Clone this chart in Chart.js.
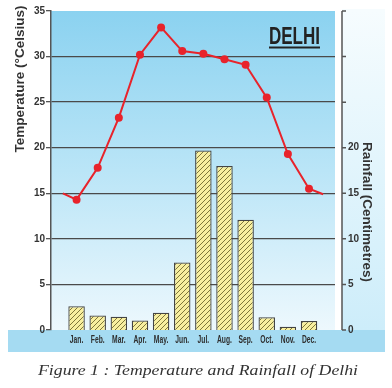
<!DOCTYPE html>
<html>
<head>
<meta charset="utf-8">
<script src="https://cdn.jsdelivr.net/npm/chart.js@4.4.1/dist/chart.umd.min.js"></script>
<style>
  html, body { margin: 0; padding: 0; background: #fff; }
</style>
</head>
<body>
<canvas id="chart" width="392" height="388"></canvas>
<script>
const months = ['Jan.', 'Feb.', 'Mar.', 'Apr.', 'May.', 'Jun.', 'Jul.', 'Aug.', 'Sep.', 'Oct.', 'Nov.', 'Dec.'];
const temperature = [14.3, 17.8, 23.3, 30.2, 33.2, 30.6, 30.3, 29.7, 29.1, 25.5, 19.3, 15.5];
const rainfall = [2.6, 1.6, 1.45, 1.05, 1.9, 7.4, 19.7, 18.0, 12.1, 1.4, 0.35, 1.0];
const tempEdges = [15, 14.9]; // the line runs on to both plot edges
const rainLabelMax = 20; // right axis only labelled up to 20

const X_MIN = -0.65, X_MAX = 11.67;

// yellow hatch for the bars
function hatch() {
  const c = document.createElement('canvas');
  c.width = 5; c.height = 5;
  const g = c.getContext('2d');
  g.fillStyle = '#f8ef9f';
  g.fillRect(0, 0, 5, 5);
  g.strokeStyle = '#7f773a';
  g.lineWidth = 1;
  g.beginPath();
  g.moveTo(0, 5); g.lineTo(5, 0);
  g.moveTo(-1, 1); g.lineTo(1, -1);
  g.moveTo(4, 6); g.lineTo(6, 4);
  g.stroke();
  return g.createPattern(c, 'repeat');
}

// draws text centred at cx, squeezed to width (or scaled by sx if width is null)
function fitText(ctx, text, cx, cy, width, font, rot, sx) {
  ctx.save();
  ctx.font = font;
  ctx.translate(cx, cy);
  ctx.rotate(rot);
  const w = ctx.measureText(text).width;
  ctx.scale(width ? width / w : sx, 1);
  ctx.textAlign = 'center';
  ctx.fillText(text, 0, 0);
  ctx.restore();
}

const decor = {
  id: 'decor',
  beforeDraw(chart) {
    const { ctx, chartArea: a } = chart;
    ctx.save();
    ctx.fillStyle = '#fff';
    ctx.fillRect(0, 0, chart.width, chart.height);
    // right strip
    let g = ctx.createLinearGradient(0, a.top, 0, a.bottom);
    g.addColorStop(0, '#f6fcfe');
    g.addColorStop(1, '#cdedfa');
    ctx.fillStyle = g;
    ctx.fillRect(a.right + 7, a.top - 2, 43, a.bottom - a.top + 2);
    // plot area
    g = ctx.createLinearGradient(0, a.top, 0, a.bottom);
    g.addColorStop(0, '#8bd2f0');
    g.addColorStop(0.5, '#bae5f7');
    g.addColorStop(1, '#edf8fd');
    ctx.fillStyle = g;
    ctx.fillRect(a.left, a.top, a.right - a.left, a.bottom - a.top);
    // band under the months
    ctx.fillStyle = '#a5dbf2';
    ctx.fillRect(8, a.bottom, 377, 22);
    ctx.restore();
  },
  afterDraw(chart) {
    const { ctx, chartArea: a } = chart;
    const x = chart.scales.x, y2 = chart.scales.y2;
    ctx.save();
    // right axis line and ticks
    const ax = a.right + 7;
    ctx.strokeStyle = '#555';
    ctx.lineWidth = 1.5;
    ctx.beginPath();
    ctx.moveTo(ax, a.top); ctx.lineTo(ax, a.bottom);
    y2.ticks.forEach(t => {
      const py = y2.getPixelForValue(t.value);
      ctx.moveTo(ax, py); ctx.lineTo(ax + 4, py);
    });
    ctx.stroke();

    // month labels, narrow like the print
    ctx.fillStyle = '#2e2e2e';
    months.forEach((m, i) => {
      fitText(ctx, m, x.getPixelForValue(i), a.bottom + 12.5, null, 'bold 10.5px "Liberation Sans", Arial', 0, 0.64);
    });

    ctx.fillStyle = '#333';
    fitText(ctx, 'Temperature (°Celsius)', 24, 79, 147, 'bold 13px "Liberation Sans", Arial', -Math.PI / 2);
    fitText(ctx, 'Rainfall (Centimetres)', 362.5, 212, 140, 'bold 13px "Liberation Sans", Arial', Math.PI / 2);

    ctx.fillStyle = '#222';
    fitText(ctx, 'DELHI', 294.5, 44.3, 51, 'bold 23px "Liberation Sans Narrow", "Liberation Sans", Arial', 0);
    ctx.fillRect(269, 46.5, 51, 2);

    ctx.fillStyle = '#333';
    fitText(ctx, 'Figure 1 : Temperature and Rainfall of Delhi', 198, 375, 320, 'italic 15px "Liberation Serif", "DejaVu Serif", serif', 0);
    ctx.restore();
  }
};

const tickFont = { family: '"Liberation Sans", Arial', size: 10, weight: 'bold' };

const tempPoints = [{ x: X_MIN, y: tempEdges[0] }]
  .concat(temperature.map((v, i) => ({ x: i, y: v })))
  .concat([{ x: X_MAX, y: tempEdges[1] }]);

new Chart(document.getElementById('chart'), {
  data: {
    datasets: [
      {
        type: 'line',
        label: 'Temperature',
        data: tempPoints,
        yAxisID: 'y',
        borderColor: '#e8232b',
        backgroundColor: '#e8232b',
        borderWidth: 2,
        pointRadius: tempPoints.map(p => (p.x < 0 || p.x > 11 ? 0 : 4)),
        pointBorderWidth: 0,
        tension: 0,
        order: 0
      },
      {
        type: 'bar',
        label: 'Rainfall',
        data: rainfall.map((v, i) => ({ x: i, y: v })),
        yAxisID: 'y2',
        backgroundColor: hatch(),
        borderColor: '#444',
        borderWidth: 1.3,
        barPercentage: 0.78,
        categoryPercentage: 1,
        order: 1
      }
    ]
  },
  options: {
    responsive: false,
    animation: false,
    layout: { padding: { top: 10 } },
    plugins: { legend: { display: false }, tooltip: { enabled: false } },
    scales: {
      x: {
        type: 'linear',
        min: X_MIN,
        max: X_MAX,
        afterBuildTicks: s => { s.ticks = months.map((m, i) => ({ value: i })); },
        afterFit: s => { s.height = 58; },
        grid: { display: false },
        border: { display: false },
        ticks: { display: false }
      },
      y: {
        position: 'left',
        min: 0,
        max: 35,
        afterFit: s => { s.width = 51; },
        border: { color: '#555', width: 1.5 },
        grid: {
          color: c => (c.tick.value === 0 || c.tick.value === 35 ? 'rgba(0,0,0,0)' : '#4a4a4a'),
          tickColor: '#555',
          lineWidth: 1.3,
          tickLength: 5
        },
        ticks: { stepSize: 5, font: tickFont, color: '#333', padding: 1 }
      },
      y2: {
        position: 'right',
        min: 0,
        max: 35,
        afterFit: s => { s.width = 57; },
        border: { display: false },
        grid: { display: false },
        ticks: {
          stepSize: 5,
          font: tickFont,
          color: '#333',
          padding: 5,
          callback: v => (v <= rainLabelMax ? v : '')
        }
      }
    }
  },
  plugins: [decor]
});
</script>
</body>
</html>
